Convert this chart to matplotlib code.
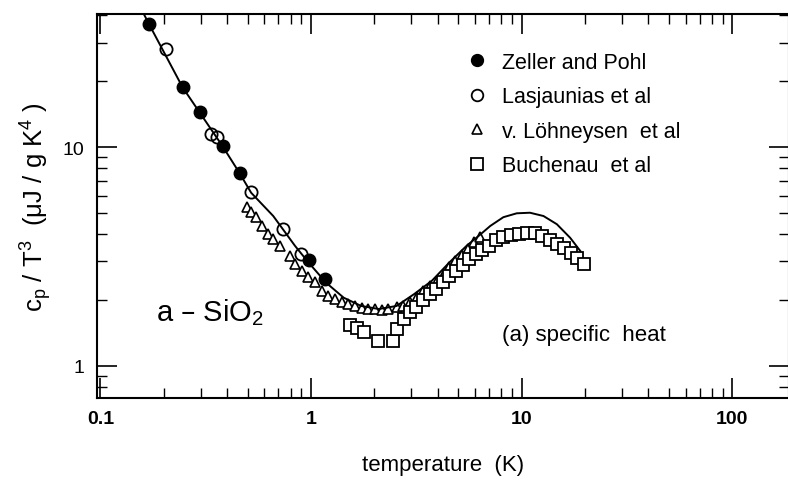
import numpy as np
import matplotlib
matplotlib.use("Agg")
import matplotlib.pyplot as plt
from matplotlib.ticker import NullFormatter

plt.rcParams['font.family'] = ['Liberation Sans', 'DejaVu Sans']
plt.rcParams['mathtext.default'] = 'regular'

# Zeller and Pohl (filled circles)
zp_T = [0.171, 0.247, 0.296, 0.382, 0.458, 0.976, 1.166]
zp_c = [36.5, 18.7, 14.5, 10.1, 7.63, 3.04, 2.49]

# Lasjaunias et al (open circles)
la_T = [0.204, 0.335, 0.358, 0.517, 0.738, 0.895]
la_c = [28.0, 11.5, 11.1, 6.22, 4.21, 3.24]

# v. Loehneysen et al (triangles)
lo_T = [0.497, 0.519, 0.548, 0.585, 0.625, 0.660, 0.713, 0.795, 0.839, 0.906,
        0.968, 1.045, 1.128, 1.204, 1.30, 1.40, 1.50, 1.62, 1.75, 1.87,
        2.01, 2.17, 2.32, 2.56, 2.73, 2.95, 3.19, 3.40, 3.67, 3.97,
        4.24, 4.52, 4.83, 5.21, 5.56, 5.94, 6.35]
lo_c = [5.30, 5.03, 4.77, 4.35, 3.99, 3.79, 3.52, 3.17, 2.92, 2.71,
        2.54, 2.41, 2.20, 2.08, 2.02, 1.96, 1.92, 1.88, 1.84, 1.82,
        1.82, 1.80, 1.82, 1.86, 1.88, 1.96, 2.06, 2.20, 2.31, 2.44,
        2.57, 2.83, 3.01, 3.20, 3.41, 3.67, 3.87]

# Buchenau et al (squares)
bu_T = [1.53, 1.65, 1.79, 2.08, 2.45, 2.56, 2.76, 2.95, 3.15, 3.40,
        3.67, 3.92, 4.24, 4.52, 4.88, 5.27, 5.62, 6.07, 6.48, 7.00,
        7.56, 8.16, 8.91, 9.72, 10.6, 11.6, 12.5, 13.6, 14.7, 15.9,
        17.2, 18.3, 19.8]
bu_c = [1.54, 1.49, 1.43, 1.30, 1.30, 1.47, 1.64, 1.76, 1.86, 2.00,
        2.13, 2.24, 2.41, 2.57, 2.71, 2.89, 3.07, 3.24, 3.38, 3.52,
        3.75, 3.87, 3.95, 3.99, 4.04, 4.04, 3.91, 3.75, 3.60, 3.45,
        3.28, 3.11, 2.92]

# solid curve
fit_T = [0.160, 0.170, 0.246, 0.380, 0.457, 0.520, 0.662, 0.841, 0.973, 1.18,
         1.43, 1.73, 2.10, 2.55, 3.09, 3.75, 4.54, 5.50, 6.30, 7.10,
         8.19, 9.48, 10.96, 12.7, 14.7, 17.0, 19.0]
fit_c = [40.9, 36.5, 18.7, 10.1, 7.63, 6.18, 4.84, 3.53, 2.97, 2.40,
         2.05, 1.88, 1.82, 1.88, 2.13, 2.45, 2.97, 3.55, 3.95, 4.36,
         4.78, 4.98, 5.01, 4.84, 4.44, 3.85, 3.35]

fig = plt.figure(figsize=(7.88, 4.85), dpi=100)
ax = fig.add_axes([97 / 788, 1 - 399 / 485, 692 / 788, 384 / 485])

ax.plot(fit_T, fit_c, '-', color='black', lw=1.4, zorder=3)
ax.plot(lo_T, lo_c, '^', ms=7, mfc='white', mec='black', mew=1.2,
        zorder=2, label='v. Löhneysen  et al')
ax.plot(bu_T, bu_c, 's', ms=8.5, mfc='white', mec='black', mew=1.3,
        zorder=2.5, label='Buchenau  et al')
ax.plot(la_T, la_c, 'o', ms=8.8, mfc='none', mec='black', mew=1.3,
        zorder=4, label='Lasjaunias et al')
ax.plot(zp_T, zp_c, 'o', ms=9, color='black', zorder=5,
        label='Zeller and Pohl')

ax.set_xscale('log')
ax.set_yscale('log')
ax.set_xlim(0.0964, 186)
ax.set_ylim(0.714, 40.5)

ax.set_xticks([0.1, 1, 10, 100], labels=['0.1', '1', '10', '100'])
ax.set_yticks([1, 10], labels=['1', '10'])
ax.xaxis.set_minor_formatter(NullFormatter())
ax.yaxis.set_minor_formatter(NullFormatter())
for lab in ax.get_xticklabels():
    lab.set_fontweight('bold')
ax.tick_params(which='both', direction='in', top=True, right=True)
ax.tick_params(which='major', length=14.5, width=1.2)
ax.tick_params(which='minor', length=7, width=1.0)
ax.tick_params(axis='x', labelsize=14, pad=9)
ax.tick_params(axis='y', labelsize=14, pad=9)
for sp in ax.spines.values():
    sp.set_linewidth(1.5)

ax.set_xlabel('temperature  (K)', fontsize=16, labelpad=19)
ax.set_ylabel(r'c$_p$ / T$^3$  (μJ / g K$^4$ )', fontsize=18.5, labelpad=6)

handles, labels = ax.get_legend_handles_labels()
order = [3, 2, 0, 1]
ax.legend([handles[i] for i in order], [labels[i] for i in order],
          loc='upper left', bbox_to_anchor=(466.7 / 788, 1 - 53 / 485),
          bbox_transform=fig.transFigure, frameon=False, fontsize=15.5,
          handlelength=1.0, handletextpad=0.64, labelspacing=0.62,
          borderpad=0, borderaxespad=0, markerscale=0.95)

ax.text(156 / 788, 1 - 321 / 485, 'a – SiO$_2$', transform=fig.transFigure,
        fontsize=21, va='baseline', ha='left')
ax.text(502 / 788, 1 - 341 / 485, '(a) specific  heat', transform=fig.transFigure,
        fontsize=16, va='baseline', ha='left')

fig.savefig('out.png', dpi=100)
